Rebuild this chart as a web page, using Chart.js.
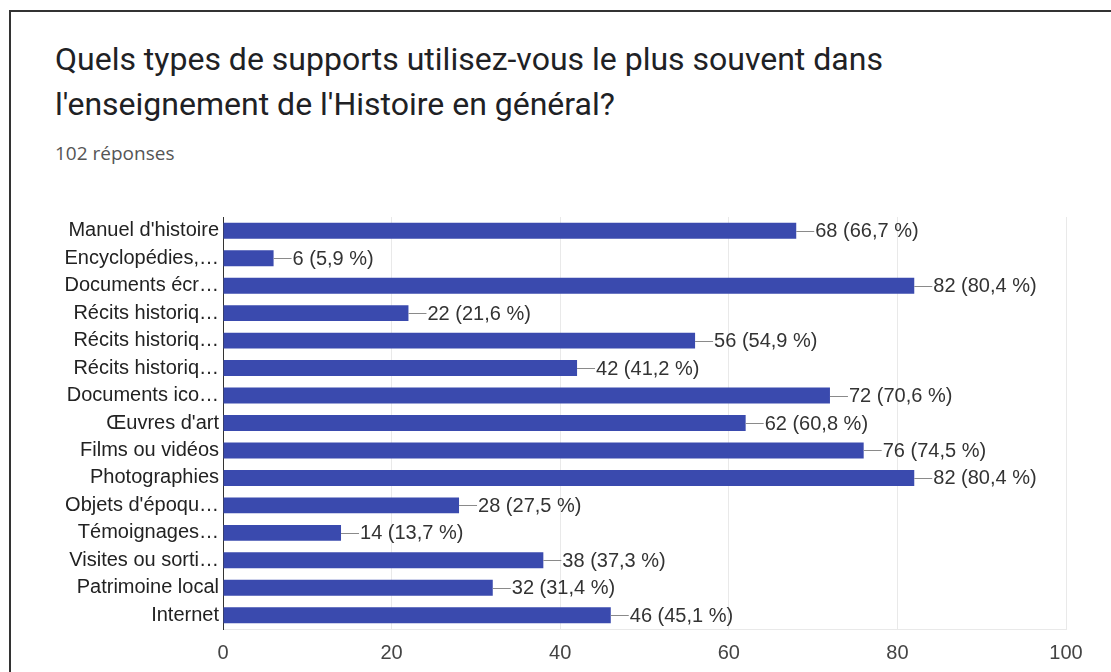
<!DOCTYPE html>
<html>
<head>
<meta charset="utf-8">
<script src="https://cdn.jsdelivr.net/npm/chart.js@4/dist/chart.umd.min.js"></script>
<style>
  html, body { margin: 0; padding: 0; background: #fff; }
  body { width: 1111px; height: 672px; overflow: hidden; position: relative; }
  #frame { position: absolute; left: 9px; top: 10px; right: -10px; bottom: -10px; border-top: 2px solid #333; border-left: 2px solid #333; }
  #title { position: absolute; left: 55px; top: 37px; font-family: Roboto, sans-serif; font-size: 32px; line-height: 45px; color: #202124; white-space: nowrap; }
  #sub { position: absolute; left: 55px; top: 141px; font-family: "Open Sans", sans-serif; font-size: 19px; line-height: 24px; color: #555; }
  #c { position: absolute; left: 0; top: 0; }
</style>
</head>
<body>
<div id="frame"></div>
<div id="title">Quels types de supports utilisez-vous le plus souvent dans<br>l'enseignement de l'Histoire en général?</div>
<div id="sub">102 réponses</div>
<canvas id="c" width="1111" height="672"></canvas>
<script>
const categories = [
  "Manuel d'histoire",
  "Encyclopédies,…",
  "Documents écr…",
  "Récits historiq…",
  "Récits historiq…",
  "Récits historiq…",
  "Documents ico…",
  "Œuvres d'art",
  "Films ou vidéos",
  "Photographies",
  "Objets d'époqu…",
  "Témoignages…",
  "Visites ou sorti…",
  "Patrimoine local",
  "Internet"
];
const counts = [68, 6, 82, 22, 56, 42, 72, 62, 76, 82, 28, 14, 38, 32, 46];
const percentLabels = ["66,7 %", "5,9 %", "80,4 %", "21,6 %", "54,9 %", "41,2 %", "70,6 %", "60,8 %", "74,5 %", "80,4 %", "27,5 %", "13,7 %", "37,3 %", "31,4 %", "45,1 %"];
const xTicks = [0, 20, 40, 60, 80, 100];

const labelFont = "Liberation Sans, Arial, sans-serif";

const valueLabels = {
  id: 'valueLabels',
  afterDatasetsDraw(chart) {
    const ctx = chart.ctx;
    const meta = chart.getDatasetMeta(0);
    ctx.save();
    ctx.font = '20px ' + labelFont;
    ctx.textBaseline = 'middle';
    ctx.textAlign = 'left';
    meta.data.forEach((bar, i) => {
      const x = bar.x, y = bar.y;
      ctx.strokeStyle = '#8a8a8a';
      ctx.lineWidth = 1;
      ctx.beginPath();
      ctx.moveTo(x, Math.round(y) + 0.5);
      ctx.lineTo(x + 18, Math.round(y) + 0.5);
      ctx.stroke();
      ctx.fillStyle = '#333';
      ctx.fillText(counts[i] + ' (' + percentLabels[i] + ')', x + 19, y + 1);
    });
    ctx.restore();
  }
};

new Chart(document.getElementById('c'), {
  type: 'bar',
  data: {
    labels: categories,
    datasets: [{
      data: counts,
      backgroundColor: '#3a4aae',
      borderWidth: 0,
      barPercentage: 0.58,
      categoryPercentage: 1.0
    }]
  },
  options: {
    indexAxis: 'y',
    responsive: false,
    animation: false,
    layout: { padding: { left: 0, top: 217, right: 45, bottom: 0 } },
    plugins: { legend: { display: false }, tooltip: { enabled: false }, title: { display: false } },
    scales: {
      x: {
        min: 0, max: 100,
        afterBuildTicks(scale) { scale.ticks = xTicks.map(v => ({ value: v })); },
        afterFit(scale) { scale.height = 43; },
        grid: { color: '#e9e9e9', drawTicks: false },
        border: { display: true, color: '#e9e9e9' },
        ticks: { padding: 12, color: '#444', font: { family: labelFont, size: 20 } }
      },
      y: {
        afterFit(scale) { scale.width = 223; },
        grid: { display: false, drawTicks: false },
        border: { display: true, color: '#333', width: 1 },
        ticks: { autoSkip: false, padding: 4, color: '#222', font: { family: labelFont, size: 20 } }
      }
    }
  },
  plugins: [valueLabels]
});
</script>
</body>
</html>
